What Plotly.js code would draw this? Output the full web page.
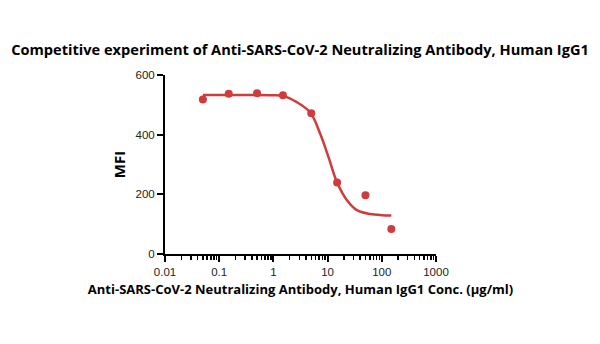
<!DOCTYPE html>
<html>
<head>
<meta charset="utf-8">
<script src="https://cdn.plot.ly/plotly-3.0.1.min.js"></script>
<style>html,body{margin:0;padding:0;background:#fff;}#chart{width:600px;height:344px;}</style>
</head>
<body>
<div id="chart"></div>
<script>
// Measured data points (concentration in µg/ml, MFI)
var concentrations = [0.05, 0.15, 0.5, 1.5, 5, 15, 50, 150];
var mfiValues = [518, 537, 539, 532, 472, 240, 197, 84];

// Fitted curve
var curveX = [0.05, 0.15, 0.5, 0.9, 1.5, 2.7, 4.8, 7.3, 10.4, 14.8, 22.6, 34.7, 61, 100, 150];
var curveY = [533, 533, 533, 532, 530, 509, 474, 403, 325, 242, 181, 147, 134, 130, 129];

var titleText = 'Competitive experiment of Anti-SARS-CoV-2 Neutralizing Antibody, Human IgG1';
var xTitle = 'Anti-SARS-CoV-2 Neutralizing Antibody, Human IgG1 Conc. (µg/ml)';
var yTitle = 'MFI';
var xTickVals = [0.01, 0.1, 1, 10, 100, 1000];
var xTickText = ['0.01', '0.1', '1', '10', '100', '1000'];
var yTickVals = [0, 200, 400, 600];

// minor log ticks at 2..9 of each decade
var xMinorTicks = [];
for (var d = 0; d < xTickVals.length - 1; d++) {
  for (var m = 2; m <= 9; m++) xMinorTicks.push(xTickVals[d] * m);
}

var red = '#d13b3b';

var traces = [
  {
    x: curveX, y: curveY, type: 'scatter', mode: 'lines',
    line: {color: red, width: 2.5, shape: 'spline', smoothing: 1},
    hoverinfo: 'skip', showlegend: false
  },
  {
    x: concentrations, y: mfiValues, type: 'scatter', mode: 'markers',
    marker: {color: red, size: 8}, showlegend: false
  }
];

var tickFont = {family: 'Liberation Sans, Arial, sans-serif', size: 11.5, color: '#222'};
var layout = {
  width: 600, height: 344,
  paper_bgcolor: '#fff', plot_bgcolor: '#fff',
  margin: {l: 165, r: 164, t: 75, b: 90, pad: 0},
  title: {
    text: '<b>' + titleText + '</b>',
    font: {family: 'Open Sans, sans-serif', size: 14.6, color: '#000'},
    x: 0.5, xanchor: 'center', y: 0.855, yanchor: 'middle'
  },
  xaxis: {
    type: 'log', range: [-2, 3],
    tickmode: 'array', tickvals: xTickVals, ticktext: xTickText,
    ticks: 'outside', ticklen: 6, tickwidth: 2, tickcolor: '#000',
    minor: {tickmode: 'array', tickvals: xMinorTicks, ticks: 'outside', ticklen: 4, tickwidth: 1.5, tickcolor: '#000', showgrid: false},
    showline: true, linecolor: '#000', linewidth: 2,
    showgrid: false, zeroline: false,
    tickfont: tickFont,
    title: {text: '<b>' + xTitle + '</b>', font: {family: 'Open Sans, sans-serif', size: 13, color: '#000'}, standoff: 8}
  },
  yaxis: {
    range: [0, 600], tickvals: yTickVals,
    ticks: 'outside', ticklen: 6, tickwidth: 2, tickcolor: '#000',
    showline: true, linecolor: '#000', linewidth: 2,
    showgrid: false, zeroline: false,
    tickfont: tickFont,
    title: {text: '<b>' + yTitle + '</b>', font: {family: 'Open Sans, sans-serif', size: 15, color: '#000'}, standoff: 6}
  }
};

Plotly.newPlot('chart', traces, layout, {displayModeBar: false, staticPlot: true});
</script>
</body>
</html>
